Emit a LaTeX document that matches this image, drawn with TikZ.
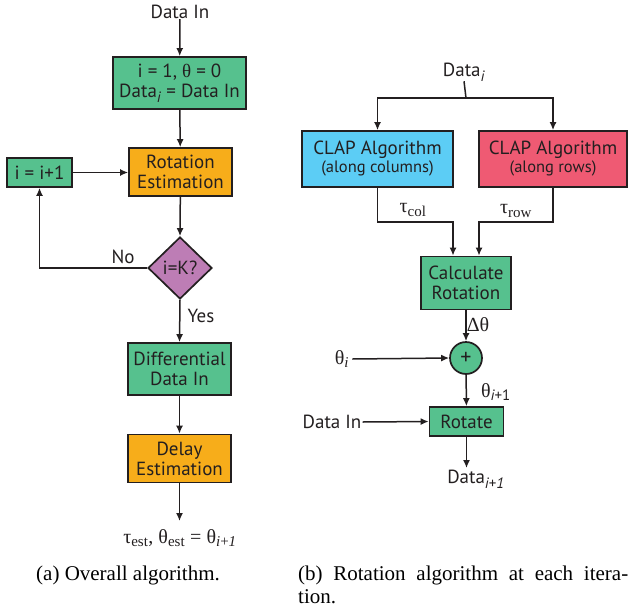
\documentclass[tikz,border=0pt]{standalone}
\usepackage{fontspec}
\setmainfont{Liberation Serif}
\newfontfamily\boxfont{PT Sans}
\usetikzlibrary{shapes.geometric,arrows.meta,calc}
\definecolor{ink}{HTML}{231F20}
\definecolor{gr}{HTML}{56C18E}
\definecolor{orng}{HTML}{F7AD1A}
\definecolor{purp}{HTML}{BD7DB5}
\definecolor{blu}{HTML}{5CCDF5}
\definecolor{rd}{HTML}{EF5A73}
\tikzset{
  blk/.style={draw=ink, line width=1.7pt, inner sep=0pt, align=center, text=ink,
    font=\boxfont\fontsize{19}{21}\selectfont},
  lbl/.style={inner sep=0pt, text=ink, font=\boxfont\fontsize{19}{21}\selectfont},
  glbl/.style={inner sep=0pt, text=ink, font=\fontsize{20}{22}\selectfont},
  captxt/.style={inner sep=0pt, text=black, font=\fontsize{21}{25}\selectfont},
  arr/.style={draw=ink, line width=1.5pt, -{Latex[length=8pt,width=7pt]}},
  ln/.style={draw=ink, line width=1.5pt},
}
\newcommand{\subs}[1]{\textsubscript{\fontsize{15}{15}\selectfont #1}}
\newcommand{\isub}{\textsubscript{\fontsize{15}{15}\selectfont\itshape i}}
\begin{document}
\begin{tikzpicture}[x=1pt,y=-1pt]
\useasboundingbox (0,0) rectangle (628,610);
% ---------------- (a) ----------------
\node[lbl] (din) at (180,12) {Data In};
\node[blk, fill=gr, minimum width=133pt, minimum height=52pt] (b1) at (179.5,83)
  {i = 1, {\fontspec{Liberation Serif}θ} = 0\\[-1pt] Data\isub{} = Data In};
\node[blk, fill=orng, minimum width=103pt, minimum height=48pt] (rot) at (180.5,172) {Rotation\\[-1pt] Estimation};
\node[blk, fill=gr, minimum width=65pt, minimum height=29pt] (inc) at (39.5,172.5) {i = i+1};
\node[blk, diamond, fill=purp, minimum width=64pt, minimum height=62pt] (dia) at (180,268) {i=K?};
\node[blk, fill=gr, minimum width=103pt, minimum height=52pt] (diff) at (179.5,369) {Differential\\[-1pt] Data In};
\node[blk, fill=orng, minimum width=103pt, minimum height=48pt] (dly) at (179.5,458.5) {Delay\\[-1pt] Estimation};
\coordinate (oend) at (179.5,521);
\node[glbl] (out) at (180,538) {τ\subs{est}, θ\subs{est} = θ\subs{\itshape i\upshape +\itshape 1}};
\node[lbl] (no) at (123,257) {No};
\node[lbl] (yes) at (201,316) {Yes};
\draw[arr] (din) -- (b1);
\draw[arr] (b1) -- (rot);
\draw[arr] (rot) -- (dia.north);
\draw[arr] (inc.east) -- (rot.west |- inc.east);
\draw[arr] (dia.west) -| (inc.south);
\draw[arr] (dia.south) -- (diff.north);
\draw[arr] (diff) -- (dly);
\draw[arr] (dly.south) -- (oend);
\node[captxt, anchor=west] (capa) at (36,575) {(a) Overall algorithm.};
% ---------------- (b) ----------------
\node[lbl] (dti) at (464,72) {Data\isub};
\coordinate (split) at (466,98);
\node[blk, fill=blu, minimum width=151pt, minimum height=56pt] (col) at (377.5,159)
  {CLAP Algorithm\\[-3pt] {\fontsize{16.5}{18}\selectfont (along columns)}};
\node[blk, fill=rd, minimum width=148pt, minimum height=56pt] (row) at (553,159)
  {CLAP Algorithm\\[-3pt] {\fontsize{16.5}{18}\selectfont (along rows)}};
\node[blk, fill=gr, minimum width=90pt, minimum height=53pt] (calc) at (466,283) {Calculate\\[-1pt] Rotation};
\node[blk, circle, fill=gr, minimum size=32pt, font=\boxfont\fontsize{22}{22}\selectfont] (sum) at (466,358) {+};
\node[blk, fill=gr, minimum width=74pt, minimum height=29pt] (rt) at (466.5,421.5) {Rotate};
\node[glbl] (thi) at (342,359) {θ\isub};
\node[lbl] (din2) at (332,422) {Data In};
\node[lbl] (dout) at (476,479) {Data\textsubscript{\fontsize{15}{15}\selectfont\itshape i\upshape +\itshape 1}};
\node[glbl] (tcol) at (413,210) {τ\subs{col}};
\node[glbl] (trow) at (516,211) {τ\subs{row}};
\node[glbl] (dth) at (478,325) {Δθ};
\node[glbl] (thn) at (496,392) {θ\textsubscript{\boxfont\fontsize{15}{15}\selectfont\itshape i\upshape +1}};
\coordinate (jc) at (453,222);
\coordinate (jr) at (479,222);
\coordinate (dend) at (466.5,468);
\draw[ln] (dti.south) -- (split);
\draw[arr] (split) -| (col.north);
\draw[arr] (split) -| (row.north);
\draw[arr] (col.south) |- (jc) -- (jc |- calc.north);
\draw[arr] (row.south) |- (jr) -- (jr |- calc.north);
\draw[arr] (calc) -- (sum);
\draw[arr] (thi.east) ++(3,0) -- (sum.west);
\draw[arr] (sum) -- (rt);
\draw[arr] (din2.east) ++(1,0) -- (rt.west);
\draw[arr] (rt.south) -- (dend);
\node[captxt, anchor=west] (capb1) at (298,575) {\makebox[330pt][s]{(b) Rotation algorithm at each itera-}};
\node[captxt, anchor=west] (capb2) at (298,597) {tion.};
\end{tikzpicture}
\end{document}
